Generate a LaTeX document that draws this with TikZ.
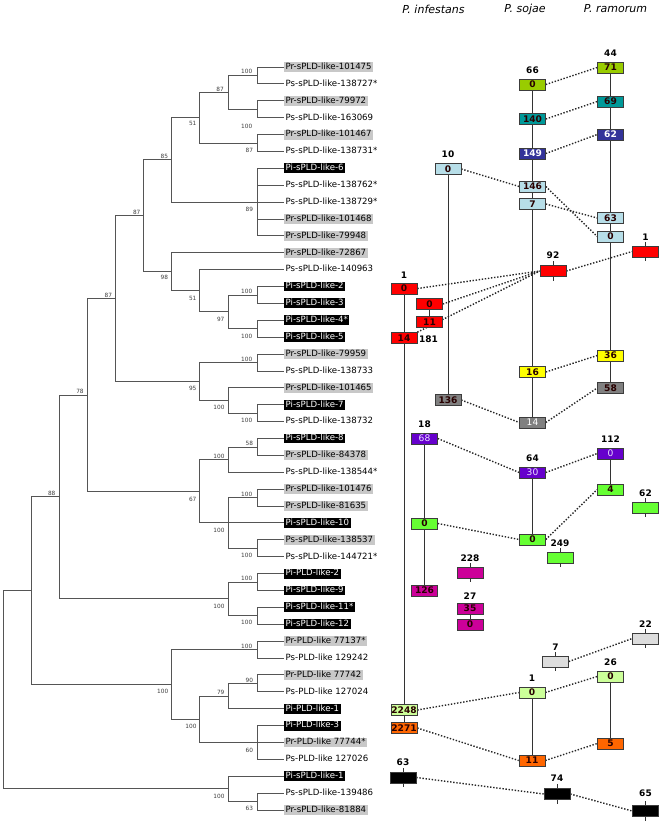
\documentclass[tikz,border=0pt]{standalone}
\usepackage{fontspec}
\setmainfont{DejaVu Sans}
\usetikzlibrary{backgrounds}
\definecolor{treegray}{RGB}{85,85,85}
\definecolor{supgray}{RGB}{60,60,60}
\definecolor{prgray}{RGB}{200,200,200}
\definecolor{boxedge}{RGB}{60,60,60}
\definecolor{colive}{RGB}{153,204,0}
\definecolor{cteal}{RGB}{0,153,153}
\definecolor{cnavy}{RGB}{51,51,153}
\definecolor{clblue}{RGB}{183,222,232}
\definecolor{cred}{RGB}{255,0,0}
\definecolor{cyellow}{RGB}{255,255,0}
\definecolor{cgray}{RGB}{128,128,128}
\definecolor{cpurple}{RGB}{102,0,204}
\definecolor{cgreen}{RGB}{102,255,51}
\definecolor{cmagenta}{RGB}{204,0,153}
\definecolor{clgray}{RGB}{221,221,221}
\definecolor{clgreen}{RGB}{204,255,153}
\definecolor{corange}{RGB}{255,102,0}
\definecolor{darktxt}{RGB}{40,0,0}
\definecolor{lighttxt}{RGB}{235,225,255}
\begin{document}
\begin{tikzpicture}[x=1pt,y=-1pt,
  branch/.style={draw=treegray, line width=0.9pt},
  leaf/.style={anchor=west, font=\fontsize{8.6}{9}\selectfont, inner xsep=1.5pt, inner ysep=0.8pt, text height=6.5pt, text depth=1.8pt},
  prbox/.style={leaf, fill=prgray},
  pibox/.style={leaf, fill=black, text=white},
  sup/.style={font=\fontsize{5.8}{6.5}\selectfont, text=supgray, inner sep=0},
  cbox/.style={draw=boxedge, line width=0.6pt, minimum width=26pt, minimum height=11pt, inner sep=0, font=\fontsize{9.1}{9.5}\selectfont\bfseries, text=darktxt},
  wbox/.style={cbox, text=white},
  lbox/.style={cbox, font=\fontsize{9.1}{9.5}\selectfont, text=lighttxt},
  cnt/.style={font=\fontsize{9}{10}\selectfont\bfseries, inner sep=0},
  vline/.style={draw=black!80, line width=0.8pt},
  dots/.style={draw=black!85, line width=1.4pt, dash pattern=on 1.4pt off 1.7pt},
  hdr/.style={font=\fontsize{11}{12}\selectfont\itshape, inner sep=0}
]
\useasboundingbox (0,0) rectangle (662,823);

% ---------- leaves ----------
\foreach \i in {1,...,45}{\coordinate (l\i) at (284,{67+(\i-1)*16.886});}

% ---------- internal nodes ----------
\coordinate (A) at (257,75.45);
\coordinate (B) at (257,109.25);
\coordinate (C) at (228,92.35);
\coordinate (D) at (257,142.95);
\coordinate (E) at (199,117.65);
\coordinate (F) at (257,202.1);
\coordinate (G) at (171,159.9);
\coordinate (N) at (257,294.95);
\coordinate (O) at (257,328.75);
\coordinate (M) at (228,311.85);
\coordinate (L) at (199,290.7);
\coordinate (K) at (171,271.7);
\coordinate (H) at (143,215.8);
\coordinate (Q) at (257,362.55);
\coordinate (S) at (257,413.15);
\coordinate (R) at (228,400.5);
\coordinate (P) at (199,381.5);
\coordinate (J) at (115,298.65);
\coordinate (Z) at (257,446.95);
\coordinate (V) at (228,459.6);
\coordinate (X) at (257,497.55);
\coordinate (Y) at (257,548.25);
\coordinate (W) at (228,522.9);
\coordinate (U) at (199,491.25);
\coordinate (T) at (87,394.95);
\coordinate (CC) at (257,582.05);
\coordinate (DD) at (257,615.75);
\coordinate (BB) at (228,598.9);
\coordinate (AA) at (59,496.9);
\coordinate (HH) at (257,649.55);
\coordinate (LL) at (257,683.35);
\coordinate (JJ) at (228,696.0);
\coordinate (KK) at (257,742.4);
\coordinate (II) at (199,719.2);
\coordinate (FF) at (171,684.4);
\coordinate (EE) at (31,590.65);
\coordinate (MM) at (257,801.55);
\coordinate (GG) at (228,788.9);
\coordinate (root) at (3,689.8);

\foreach \p/\c in {A/l1,A/l2,B/l3,B/l4,C/A,C/B,D/l5,D/l6,E/C,E/D,
  F/l7,F/l8,F/l9,F/l10,F/l11,G/E,G/F,H/G,H/K,K/l12,K/L,L/l13,L/M,M/N,M/O,
  N/l14,N/l15,O/l16,O/l17,J/H,J/P,P/Q,P/R,Q/l18,Q/l19,R/l20,R/S,S/l21,S/l22,
  T/J,T/U,U/V,U/W,V/Z,V/l25,Z/l23,Z/l24,W/X,W/l28,W/Y,X/l26,X/l27,Y/l29,Y/l30,
  AA/T,AA/BB,BB/CC,BB/DD,CC/l31,CC/l32,DD/l33,DD/l34,EE/AA,EE/FF,FF/HH,FF/II,
  HH/l35,HH/l36,II/JJ,II/KK,JJ/LL,JJ/l39,LL/l37,LL/l38,KK/l40,KK/l41,KK/l42,
  GG/l43,GG/MM,MM/l44,MM/l45,root/EE,root/GG}
  {\draw[branch] (\p) |- (\c);}

% ---------- leaf labels ----------
\foreach \i/\s/\t in {
  1/prbox/Pr-sPLD-like-101475, 2/leaf/Ps-sPLD-like-138727*,
  3/prbox/Pr-sPLD-like-79972, 4/leaf/Ps-sPLD-like-163069,
  5/prbox/Pr-sPLD-like-101467, 6/leaf/Ps-sPLD-like-138731*,
  7/pibox/Pi-sPLD-like-6, 8/leaf/Ps-sPLD-like-138762*,
  9/leaf/Ps-sPLD-like-138729*, 10/prbox/Pr-sPLD-like-101468,
  11/prbox/Pr-sPLD-like-79948, 12/prbox/Pr-sPLD-like-72867,
  13/leaf/Ps-sPLD-like-140963, 14/pibox/Pi-sPLD-like-2,
  15/pibox/Pi-sPLD-like-3, 16/pibox/Pi-sPLD-like-4*,
  17/pibox/Pi-sPLD-like-5, 18/prbox/Pr-sPLD-like-79959,
  19/leaf/Ps-sPLD-like-138733, 20/prbox/Pr-sPLD-like-101465,
  21/pibox/Pi-sPLD-like-7, 22/leaf/Ps-sPLD-like-138732,
  23/pibox/Pi-sPLD-like-8, 24/prbox/Pr-sPLD-like-84378,
  25/leaf/Ps-sPLD-like-138544*, 26/prbox/Pr-sPLD-like-101476,
  27/prbox/Pr-sPLD-like-81635, 28/pibox/Pi-sPLD-like-10,
  29/prbox/Ps-sPLD-like-138537, 30/leaf/Ps-sPLD-like-144721*,
  31/pibox/Pi-PLD-like-2, 32/pibox/Pi-sPLD-like-9,
  33/pibox/Pi-sPLD-like-11*, 34/pibox/Pi-sPLD-like-12,
  35/prbox/Pr-PLD-like 77137*, 36/leaf/Ps-PLD-like 129242,
  37/prbox/Pr-PLD-like 77742, 38/leaf/Ps-PLD-like 127024,
  39/pibox/Pi-PLD-like-1, 40/pibox/Pi-PLD-like-3,
  41/prbox/Pr-PLD-like 77744*, 42/leaf/Ps-PLD-like 127026,
  43/pibox/Pi-sPLD-like-1, 44/leaf/Ps-sPLD-like-139486,
  45/prbox/Pr-sPLD-like-81884}
  {\node[\s] (t\i) at (l\i) {\t};}

% ---------- support values ----------
\foreach \x/\y/\v [count=\k] in {246.7/71.7/100, 220/89/87, 246.7/126/100, 192.7/123.3/51,
  249.3/150/87, 164.3/156.7/85, 249.3/209.3/89, 136.7/212.3/87, 164.3/277.7/98,
  192.7/298.3/51, 246.7/291.7/100, 220.7/319/97, 246.7/336/100, 108.3/295/87,
  246.7/359.3/100, 192.7/388.3/95, 219/407.7/100, 246.7/420/100, 80/391.7/78,
  249.3/443.3/58, 219/456/100, 192.7/499/67, 246.7/494.3/100, 219/530/100,
  246.7/555/100, 51.7/493.3/88, 246.7/578.3/100, 219/606/100, 246.7/622.7/100,
  246.7/646/100, 162.7/691.7/100, 249.3/680/90, 220.7/692.7/79, 191/726.7/100,
  249.3/750/60, 219/796/100, 249.3/808.3/63}
  {\node[sup] (s\k) at (\x,\y) {\v};}

% ---------- headers ----------
\node[hdr] (hi) at (433.5,9) {P. infestans};
\node[hdr] (hs) at (525,9) {P. sojae};
\node[hdr] (hr) at (615.5,9) {P. ramorum};

% ---------- boxes: P. infestans ----------
\node[cbox, fill=cred] (ir0) at (404,288.5) {0};
\node[cbox, fill=cred] (ir0b) at (429.5,304) {0};
\node[cbox, fill=cred] (ir11) at (429.5,322) {11};
\node[cbox, fill=cred] (ir14) at (404,338) {14};
\node[cbox, fill=clblue] (ilb0) at (448,169) {0};
\node[cbox, fill=cgray] (ig136) at (448,400) {136};
\node[lbox, fill=cpurple] (ip68) at (424.5,438.5) {68};
\node[cbox, fill=cgreen] (igr0) at (424.5,523.5) {0};
\node[cbox, fill=cmagenta] (im126) at (424.5,590.5) {126};
\node[cbox, fill=cmagenta] (im228) at (470,572.5) {};
\node[cbox, fill=cmagenta] (im35) at (470,608.5) {35};
\node[cbox, fill=cmagenta] (im0) at (470,624.5) {0};
\node[cbox, fill=clgreen] (ilg) at (404,710) {2248};
\node[cbox, fill=corange] (io) at (404,728) {2271};
\node[cbox, fill=black] (ik) at (403,777.5) {};

% ---------- boxes: P. sojae ----------
\node[cbox, fill=colive] (sg0) at (532.5,84.5) {0};
\node[cbox, fill=cteal] (st140) at (532.5,119) {140};
\node[wbox, fill=cnavy] (sn149) at (532.5,153.5) {149};
\node[cbox, fill=clblue] (slb146) at (532.5,186.5) {146};
\node[cbox, fill=clblue] (slb7) at (532.5,204) {7};
\node[cbox, fill=cred] (sr92) at (553,271) {};
\node[cbox, fill=cyellow] (sy16) at (532.5,372) {16};
\node[lbox, fill=cgray, text=white] (sg14) at (532.5,422.5) {14};
\node[lbox, fill=cpurple] (sp30) at (532.5,472.5) {30};
\node[cbox, fill=cgreen] (sgr0) at (532.5,539.5) {0};
\node[cbox, fill=cgreen] (sgr249) at (560,557.5) {};
\node[cbox, fill=clgray] (slgr7) at (555.5,661.5) {};
\node[cbox, fill=clgreen] (slg0) at (532,692.5) {0};
\node[cbox, fill=corange] (so11) at (532,760.5) {11};
\node[cbox, fill=black] (sk74) at (557,794) {};

% ---------- boxes: P. ramorum ----------
\node[cbox, fill=colive] (rg71) at (610.5,67.5) {71};
\node[cbox, fill=cteal] (rt69) at (610.5,101.5) {69};
\node[wbox, fill=cnavy] (rn62) at (610.5,134.5) {62};
\node[cbox, fill=clblue] (rlb63) at (610.5,218) {63};
\node[cbox, fill=clblue] (rlb0) at (610.5,236.5) {0};
\node[cbox, fill=cred] (rr1) at (645.5,251.5) {};
\node[cbox, fill=cyellow] (ry36) at (610.5,355.5) {36};
\node[cbox, fill=cgray] (rg58) at (610.5,388) {58};
\node[lbox, fill=cpurple] (rp0) at (610.5,453.5) {0};
\node[cbox, fill=cgreen] (rgr4) at (610.5,489.5) {4};
\node[cbox, fill=cgreen] (rgr62) at (645.5,507.5) {};
\node[cbox, fill=clgray] (rlgr22) at (645.5,638.5) {};
\node[cbox, fill=clgreen] (rlg0) at (610.5,676.5) {0};
\node[cbox, fill=corange] (ro5) at (610.5,743.5) {5};
\node[cbox, fill=black] (rk65) at (645.5,811) {};

% ---------- solid vertical lines and dotted links (behind boxes) ----------
\begin{scope}[on background layer]
  \foreach \a/\b in {ir0/io, ir0b/ir11, ilb0/ig136, ip68/im126, im35/im0,
     sg0/sg14, sp30/sgr0, slg0/so11, rg71/rg58, rp0/rgr4, rlg0/ro5}
    {\draw[vline] (\a.center) -- (\b.center);}
  \foreach \a/\b in {sg0/rg71, st140/rt69, sn149/rn62, ilb0/slb146, slb146/rlb0,
     slb7/rlb63, ir0/sr92, ir0b/sr92, sr92/rr1, sy16/ry36, ig136/sg14,
     sg14/rg58, ip68/sp30, sp30/rp0, igr0/sgr0, sgr0/rgr4, slgr7/rlgr22,
     ilg/slg0, slg0/rlg0, io/so11, so11/ro5, ik/sk74, sk74/rk65}
    {\draw[dots] (\a.east) -- (\b.west);}
  \draw[dots] (ir14.north east) -- (sr92.west);
\end{scope}

% ---------- ticks on empty boxes ----------
\foreach \b in {im228, sr92, sgr249, slgr7, sk74, rr1, rgr62, rlgr22, rk65, ik}
  {\draw[vline] (\b.north) -- ++(0,-4);
   \draw[vline] (\b.south) -- ++(0,4);}

% ---------- count labels ----------
\node[cnt] (c1) at (404,275) {1};
\node[cnt] (c181) at (428.5,339) {181};
\node[cnt] (c10) at (448,154) {10};
\node[cnt] (c18) at (424.5,424) {18};
\node[cnt] (c228) at (470,558) {228};
\node[cnt] (c27) at (470,596) {27};
\node[cnt] (c63) at (403,762) {63};
\node[cnt] (c66) at (532.5,70) {66};
\node[cnt] (c92) at (553,255) {92};
\node[cnt] (c64) at (532.5,458) {64};
\node[cnt] (c249) at (560,543) {249};
\node[cnt] (c7) at (555.5,647) {7};
\node[cnt] (c1b) at (532,678) {1};
\node[cnt] (c74) at (557,778) {74};
\node[cnt] (c44) at (610.5,53) {44};
\node[cnt] (c1c) at (645.5,237) {1};
\node[cnt] (c112) at (610.5,439) {112};
\node[cnt] (c62) at (645.5,493) {62};
\node[cnt] (c22) at (645.5,624) {22};
\node[cnt] (c26) at (610.5,662) {26};
\node[cnt] (c65) at (645.5,793) {65};

\end{tikzpicture}
\end{document}
